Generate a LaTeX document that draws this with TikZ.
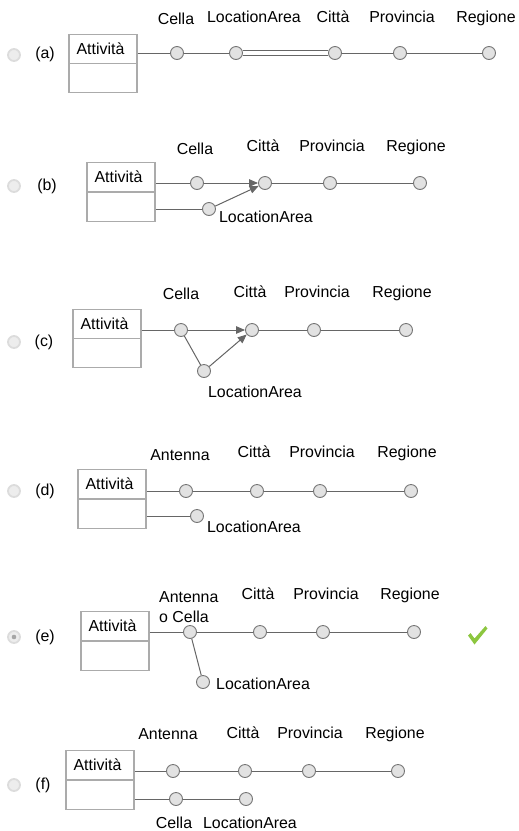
\documentclass[tikz,border=0pt]{standalone}
\usepackage{fontspec}
\setmainfont{Liberation Sans}
\usetikzlibrary{arrows.meta,calc}
\definecolor{edgegray}{HTML}{666666}
\definecolor{dotline}{HTML}{757575}
\definecolor{dotfill}{HTML}{E2E2E2}
\definecolor{boxline}{HTML}{ABABAB}
\definecolor{radioline}{HTML}{DCDCDC}
\definecolor{radiofill}{HTML}{EDEDED}
\definecolor{okgreen}{HTML}{8CC63F}
\tikzset{
  lbl/.style={font=\fontsize{15.9}{18}\selectfont, inner sep=0pt, anchor=base},
  tagtxt/.style={font=\fontsize{15.9}{18}\selectfont, inner sep=0pt},
  dot/.style={circle, draw=dotline, fill=dotfill, line width=0.9pt, minimum size=13pt, inner sep=0pt},
  entbox/.style={rectangle, draw=boxline, line width=1.1pt, minimum width=68pt, minimum height=58.5pt, inner sep=0pt},
  link/.style={draw=edgegray, line width=1pt},
  arr/.style={link, -{Triangle[length=9pt,width=7.5pt]}, fill=edgegray},
  radio/.style={circle, draw=radioline, fill=radiofill, line width=1.8pt, minimum size=12pt, inner sep=0pt},
}
\newcommand{\entity}[2]{% name, centre
  \node[entbox] (#1) at (#2) {};
  \draw[boxline, line width=1.1pt] (#1.west) -- (#1.east);
  \node[tagtxt] (#1-txt) at ([xshift=-2.5pt]$(#1.north)!0.5!(#1.center)$) {Attività};
}
\begin{document}
\begin{tikzpicture}[x=1pt, y=-1pt]
\useasboundingbox (0,0) rectangle (519,831);

% ---------- (a)
\node[radio] (a-radio) at (14,55) {};
\node[tagtxt] (a-tag) at (45,54) {(a)};
\entity{a-box}{103,63.5}
\node[dot] (a1) at (177,53) {};
\node[dot] (a2) at (236,53) {};
\node[dot] (a3) at (335,53) {};
\node[dot] (a4) at (400,53) {};
\node[dot] (a5) at (489,53) {};
\draw[link] (a-box.east |- a1) -- (a1) -- (a2);
\draw[link, double=white, double distance=3.5pt, line width=0.9pt] (a2) -- (a3);
\draw[link] (a3) -- (a4) -- (a5);
\node[lbl] (a1-l) at (176,24) {Cella};
\node[lbl] (a2-l) at (254,22.5) {LocationArea};
\node[lbl] (a3-l) at (333,22.5) {Città};
\node[lbl] (a4-l) at (402,22.5) {Provincia};
\node[lbl] (a5-l) at (486,22.5) {Regione};

% ---------- (b)
\node[radio] (b-radio) at (14,186) {};
\node[tagtxt] (b-tag) at (47,186) {(b)};
\entity{b-box}{121,192}
\node[dot] (b1) at (197,183) {};
\node[dot] (b2) at (265,183) {};
\node[dot] (b3) at (330,183) {};
\node[dot] (b4) at (420,183) {};
\node[dot] (bL) at (209,209) {};
\draw[link] (b-box.east |- b1) -- (b1);
\draw[arr] (b1) -- (b2);
\draw[link] (b2) -- (b3) -- (b4);
\draw[link] (b-box.east |- bL) -- (bL);
\draw[arr] (bL) -- (b2);
\node[lbl] (b1-l) at (195,154) {Cella};
\node[lbl] (b2-l) at (263,151) {Città};
\node[lbl] (b3-l) at (332,151) {Provincia};
\node[lbl] (b4-l) at (416,151) {Regione};
\node[lbl] (bL-l) at (266,222) {LocationArea};

% ---------- (c)
\node[radio] (c-radio) at (14,342) {};
\node[tagtxt] (c-tag) at (44,342) {(c)};
\entity{c-box}{107,338.5}
\node[dot] (c1) at (181,330) {};
\node[dot] (c2) at (252,330) {};
\node[dot] (c3) at (314,330) {};
\node[dot] (c4) at (406,330) {};
\node[dot] (cL) at (204,371) {};
\draw[link] (c-box.east |- c1) -- (c1);
\draw[arr] (c1) -- (c2);
\draw[link] (c2) -- (c3) -- (c4);
\draw[link] (c1) -- (cL);
\draw[arr] (cL) -- (c2);
\node[lbl] (c1-l) at (181,299) {Cella};
\node[lbl] (c2-l) at (250,297) {Città};
\node[lbl] (c3-l) at (317,297) {Provincia};
\node[lbl] (c4-l) at (402,297) {Regione};
\node[lbl] (cL-l) at (255,397) {LocationArea};

% ---------- (d)
\node[radio] (d-radio) at (14,491) {};
\node[tagtxt] (d-tag) at (45,491) {(d)};
\entity{d-box}{112,499}
\node[dot] (d1) at (186,491) {};
\node[dot] (d2) at (257,491) {};
\node[dot] (d3) at (320,491) {};
\node[dot] (d4) at (411,491) {};
\node[dot] (dL) at (197,516) {};
\draw[link] (d-box.east |- d1) -- (d1) -- (d2) -- (d3) -- (d4);
\draw[link] (d-box.east |- dL) -- (dL);
\node[lbl] (d1-l) at (180,460) {Antenna};
\node[lbl] (d2-l) at (254,457) {Città};
\node[lbl] (d3-l) at (322,457) {Provincia};
\node[lbl] (d4-l) at (407,457) {Regione};
\node[lbl] (dL-l) at (254,532) {LocationArea};

% ---------- (e)
\node[radio] (e-radio) at (14,637) {};
\fill[black!35] (e-radio.center) circle (2.3pt);
\node[tagtxt] (e-tag) at (45,637) {(e)};
\entity{e-box}{115,641}
\node[dot] (e1) at (190,632) {};
\node[dot] (e2) at (260,632) {};
\node[dot] (e3) at (323,632) {};
\node[dot] (e4) at (414,632) {};
\node[dot] (eL) at (203,682) {};
\draw[link] (e-box.east |- e1) -- (e1) -- (e2) -- (e3) -- (e4);
\draw[link] (e1) -- (eL);
\node[lbl, anchor=base west] (e1-la) at (159,602) {Antenna};
\node[lbl, anchor=base west] (e1-lb) at (159,622) {o Cella};
\node[lbl] (e2-l) at (258,599) {Città};
\node[lbl] (e3-l) at (326,599) {Provincia};
\node[lbl] (e4-l) at (410,599) {Regione};
\node[lbl, anchor=base west] (eL-l) at (216,689) {LocationArea};
% tick beside the chosen answer
\fill[okgreen] (468,635.5) -- (470.5,633) -- (474.5,638.5) -- (485.5,626) -- (487.5,628.5) -- (474.5,644.5) -- cycle;

% ---------- (f)
\node[radio] (f-radio) at (14,785) {};
\node[tagtxt] (f-tag) at (43,785) {(f)};
\entity{f-box}{100,780}
\node[dot] (f1) at (173,771) {};
\node[dot] (f2) at (245,771) {};
\node[dot] (f3) at (309,771) {};
\node[dot] (f4) at (398,771) {};
\node[dot] (fC) at (176,799) {};
\node[dot] (fL) at (246,799) {};
\draw[link] (f-box.east |- f1) -- (f1) -- (f2) -- (f3) -- (f4);
\draw[link] (f-box.east |- fC) -- (fC) -- (fL);
\node[lbl] (f1-l) at (168,739) {Antenna};
\node[lbl] (f2-l) at (243,738) {Città};
\node[lbl] (f3-l) at (310,738) {Provincia};
\node[lbl] (f4-l) at (395,738) {Regione};
\node[lbl] (fC-l) at (174,828) {Cella};
\node[lbl] (fL-l) at (250,828) {LocationArea};
\end{tikzpicture}
\end{document}
